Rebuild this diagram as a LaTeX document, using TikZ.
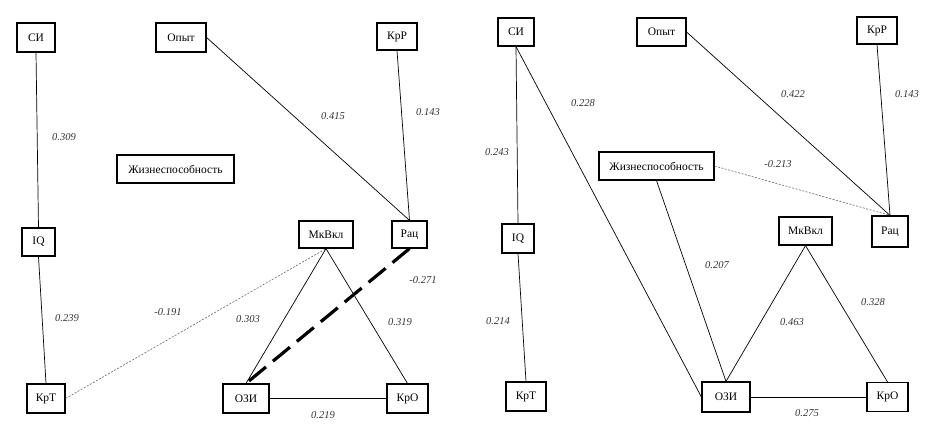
\documentclass[tikz,border=0pt]{standalone}
\usepackage{fontspec}
\setmainfont{Liberation Serif}
\begin{document}
\begin{tikzpicture}[x=1pt,y=-1pt,
  bx/.style={draw, line width=1.2pt, fill=white, inner sep=0pt, font=\fontsize{11.5}{13}\selectfont},
  lbl/.style={font=\fontsize{10.5}{12}\selectfont\itshape, text=black!80},
  edge/.style={line width=0.7pt},
  weak/.style={line width=0.6pt, black!60, dash pattern=on 2pt off 1.5pt},
  strong/.style={line width=3.2pt, dash pattern=on 22pt off 9pt}]
\useasboundingbox (0,0) rectangle (942,441);
% left panel
\node[bx, minimum width=38, minimum height=29] (lSI) at (36,37.5) {СИ};
\node[bx, minimum width=50, minimum height=29] (lOp) at (181,37.5) {Опыт};
\node[bx, minimum width=40, minimum height=27] (lKrR) at (397,36.5) {КрР};
\node[bx, minimum width=117, minimum height=28] (lZh) at (175.5,169) {Жизнеспособность};
\node[bx, minimum width=33, minimum height=28] (lIQ) at (38.5,242) {IQ};
\node[bx, minimum width=38, minimum height=29] (lKrT) at (46,398.5) {КрТ};
\node[bx, minimum width=54, minimum height=27] (lMk) at (326,234.5) {МкВкл};
\node[bx, minimum width=35, minimum height=27] (lRac) at (409.5,234.5) {Рац};
\node[bx, minimum width=46, minimum height=29] (lOZI) at (246,398.5) {ОЗИ};
\node[bx, minimum width=41, minimum height=29] (lKrO) at (407.5,398.5) {КрО};
\draw[edge] (lSI.south) -- (lIQ.north);
\draw[edge] (lIQ.south) -- (lKrT.north);
\draw[edge] (lOp.east) -- (lRac.north);
\draw[edge] (lKrR.south) -- (lRac.north);
\draw[weak] (lKrT.east) -- (lMk.south);
\draw[edge] (lMk.south) -- (lOZI.north);
\draw[edge] (lMk.south) -- (lKrO.north);
\draw[strong] (lRac.south) -- (lOZI.north);
\draw[edge] (lOZI.east) -- (lKrO.west);
\node[lbl] (l1) at (64,137) {0.309};
\node[lbl] (l2) at (333,116) {0.415};
\node[lbl] (l3) at (428,112) {0.143};
\node[lbl] (l4) at (67,318) {0.239};
\node[lbl] (l5) at (168,312) {-0.191};
\node[lbl] (l6) at (248,319) {0.303};
\node[lbl] (l7) at (400,322) {0.319};
\node[lbl] (l8) at (423,280) {-0.271};
\node[lbl] (l9) at (323,415) {0.219};
% right panel
\node[bx, minimum width=36, minimum height=28] (rSI) at (516,32) {СИ};
\node[bx, minimum width=49, minimum height=28] (rOp) at (661.5,32) {Опыт};
\node[bx, minimum width=40, minimum height=27] (rKrR) at (877,30.5) {КрР};
\node[bx, minimum width=115, minimum height=28] (rZh) at (656.5,166) {Жизнеспособность};
\node[bx, minimum width=32, minimum height=29] (rIQ) at (518,238.5) {IQ};
\node[bx, minimum width=40, minimum height=29] (rKrT) at (526,396.5) {КрТ};
\node[bx, minimum width=53, minimum height=28] (rMk) at (805.5,231) {МкВкл};
\node[bx, minimum width=36, minimum height=31] (rRac) at (890,231.5) {Рац};
\node[bx, minimum width=48, minimum height=30] (rOZI) at (726,397) {ОЗИ};
\node[bx, minimum width=41, minimum height=29] (rKrO) at (887.5,397) {КрО};
\draw[edge] (rSI.south) -- (rIQ.north);
\draw[edge] (rIQ.south) -- (rKrT.north);
\draw[edge] (rSI.south) -- (rOZI.west);
\draw[edge] (rZh.south) -- (rOZI.north);
\draw[edge] (rMk.south) -- (rOZI.north);
\draw[edge] (rMk.south) -- (rKrO.north);
\draw[edge] (rOZI.east) -- (rKrO.west);
\draw[edge] (rOp.east) -- (rRac.north);
\draw[edge] (rKrR.south) -- (rRac.north);
\draw[weak] (rZh.east) -- (rRac.north);
\node[lbl] (r1) at (583,103) {0.228};
\node[lbl] (r2) at (497,152) {0.243};
\node[lbl] (r3) at (793,94) {0.422};
\node[lbl] (r4) at (907,94) {0.143};
\node[lbl] (r5) at (778,164) {-0.213};
\node[lbl] (r6) at (717,265) {0.207};
\node[lbl] (r7) at (792,322) {0.463};
\node[lbl] (r8) at (873,302) {0.328};
\node[lbl] (r9) at (498,321) {0.214};
\node[lbl] (r10) at (807,413) {0.275};
\end{tikzpicture}
\end{document}
